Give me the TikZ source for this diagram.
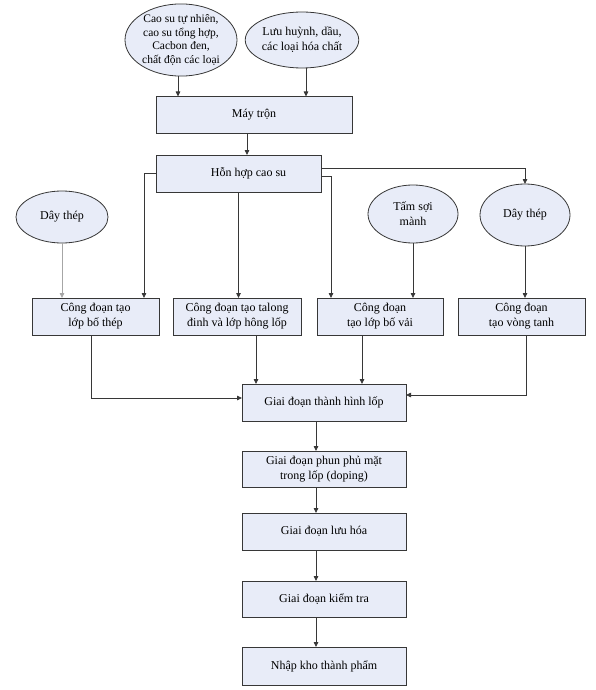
\documentclass[tikz,border=0pt]{standalone}
\usepackage{fontspec}
\setmainfont{Liberation Serif}
\usetikzlibrary{arrows.meta,shapes.geometric}
\definecolor{boxfill}{RGB}{232,236,248}
\definecolor{linecol}{RGB}{55,55,55}
\begin{document}
\begin{tikzpicture}[x=1pt,y=-1pt,
  every node/.style={inner sep=0pt,outer sep=0pt},
  procbox/.style={draw=linecol,line width=0.8pt,fill=boxfill,rectangle,align=center,
     font=\fontsize{12}{15}\selectfont},
  inbubble/.style={draw=linecol,line width=0.8pt,fill=boxfill,ellipse,align=center,
     font=\fontsize{12}{15}\selectfont},
  arr/.style={draw=linecol,line width=0.8pt,-{Triangle[length=5pt,width=4.5pt]}},
  grayarr/.style={draw=gray!70,line width=0.8pt,-{Triangle[length=5pt,width=4.5pt]}},
  plain/.style={draw=linecol,line width=0.8pt}]
\useasboundingbox (0,0) rectangle (596,690);
% inputs
\node[inbubble,minimum width=112pt,minimum height=72pt,font=\fontsize{11.5}{13.7}\selectfont] (e1) at (181,40)
  {Cao su tự nhiên,\\ cao su tổng hợp,\\ Cacbon đen,\\ chất độn các loại};
\node[inbubble,minimum width=100pt,minimum height=56pt] (e2) at (302,40)
  {Lưu huỳnh, dầu,\\ các loại hóa chất};
\node[procbox,minimum width=196pt,minimum height=37pt] (mix) at (254,115) {Máy trộn};
\node[procbox,minimum width=165pt,minimum height=37pt] (hh) at (238.5,173.5) {\hspace*{20pt}Hỗn hợp cao su};
% side materials
\node[inbubble,minimum width=92pt,minimum height=52pt] (e3) at (62,217) {Dây thép};
\node[inbubble,minimum width=90pt,minimum height=58pt] (e4) at (413,214) {Tấm sợi\\ mành};
\node[inbubble,minimum width=90pt,minimum height=62pt] (e5) at (525,215) {Dây thép};
% stage row
\node[procbox,minimum width=127pt,minimum height=37pt] (b1) at (95.5,316.5) {Công đoạn tạo\\ lớp bố thép};
\node[procbox,minimum width=128pt,minimum height=37pt] (b2) at (237,316.5) {Công đoạn tạo talong\\ đinh và lớp hông lốp};
\node[procbox,minimum width=126pt,minimum height=37pt] (b3) at (380,316.5) {Công đoạn\\ tạo lớp bố vải};
\node[procbox,minimum width=127pt,minimum height=37pt] (b4) at (521.5,316.5) {Công đoạn\\ tạo vòng tanh};
% main chain
\node[procbox,minimum width=164pt,minimum height=37pt] (th) at (324,402.5) {Giai đoạn thành hình lốp};
\node[procbox,minimum width=164pt,minimum height=36pt] (p1) at (324,469) {Giai đoạn phun phủ mặt\\ trong lốp (doping)};
\node[procbox,minimum width=164pt,minimum height=37pt] (p2) at (324,531.5) {Giai đoạn lưu hóa};
\node[procbox,minimum width=164pt,minimum height=36pt] (p3) at (324,599) {Giai đoạn kiểm tra};
\node[procbox,minimum width=164pt,minimum height=38pt] (p4) at (324,666) {Nhập kho thành phẩm};
% connectors top
\draw[arr] ([xshift=-3pt]e1.south) -- ([xshift=-3pt]e1.south |- mix.north);
\draw[arr] ([xshift=4pt]e2.south) -- ([xshift=4pt]e2.south |- mix.north);
\draw[arr] ([xshift=-7pt]mix.south) -- ([xshift=-7pt]mix.south |- hh.north);
% from mixture
\draw[arr] (hh.west) -- ++(-12,0) coordinate (k1) -- (k1 |- b1.north);
\draw[arr] (hh.south) -- (hh.south |- b2.north);
\draw[arr] ([yshift=-2.5pt]hh.east) -- ++(10,0) coordinate (k3) -- (k3 |- b3.north);
\draw[arr] ([yshift=5.5pt]hh.east) -| (e5.north);
% side materials down
\draw[grayarr] (e3.south) -- (e3.south |- b1.north);
\draw[arr] (e4.south) -- (e4.south |- b3.north);
\draw[arr] (e5.south) -- (e5.south |- b4.north);
% into forming stage
\draw[arr] ([xshift=-4.5pt]b1.south) |- ([yshift=4.5pt]th.west);
\draw[arr] ([xshift=19pt]b2.south) -- ([xshift=19pt]b2.south |- th.north);
\draw[arr] ([xshift=-18pt]b3.south) -- ([xshift=-18pt]b3.south |- th.north);
\draw[arr] ([xshift=4.5pt]b4.south) |- ([yshift=7.5pt]th.east);
% main chain
\draw[arr] ([xshift=-8pt]th.south) -- ([xshift=-8pt]th.south |- p1.north);
\draw[arr] ([xshift=-8pt]p1.south) -- ([xshift=-8pt]p1.south |- p2.north);
\draw[arr] ([xshift=-8pt]p2.south) -- ([xshift=-8pt]p2.south |- p3.north);
\draw[arr] ([xshift=-8pt]p3.south) -- ([xshift=-8pt]p3.south |- p4.north);
\end{tikzpicture}
\end{document}
